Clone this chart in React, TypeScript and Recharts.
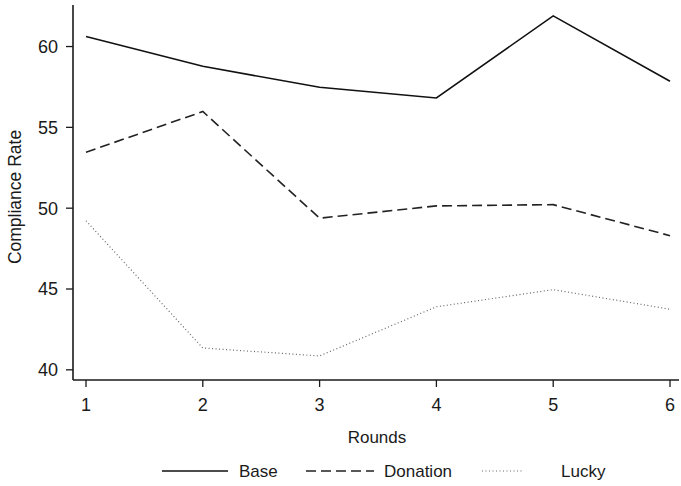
import { LineChart, Line, XAxis, YAxis, Legend } from 'recharts';

const rounds = [1, 2, 3, 4, 5, 6];
const base = [60.62, 58.78, 57.48, 56.82, 61.9, 57.85];
const donation = [53.46, 55.98, 49.38, 50.14, 50.22, 48.3];
const lucky = [49.22, 41.35, 40.86, 43.9, 44.96, 43.75];
const yTicks = [40, 45, 50, 55, 60];

const data = rounds.map((r, i) => ({
  round: r,
  base: base[i],
  donation: donation[i],
  lucky: lucky[i],
}));

const font = '"Liberation Sans", Arial, Helvetica, sans-serif';
const ink = '#1a1a1a';

const series = [
  { key: 'base', name: 'Base', stroke: '#111', width: 1.6, dash: undefined, x1: 162, x2: 228, tx: 239 },
  { key: 'donation', name: 'Donation', stroke: '#222', width: 1.6, dash: '10 5', x1: 306, x2: 374, tx: 384 },
  { key: 'lucky', name: 'Lucky', stroke: '#666', width: 1.2, dash: '1 2.5', x1: 482, x2: 522, tx: 561 },
];

function LegendRow() {
  return (
    <svg width={681} height={30} style={{ display: 'block' }}>
      {series.map((s) => (
        <g key={s.key}>
          <line x1={s.x1} x2={s.x2} y1={15} y2={15} stroke={s.stroke} strokeWidth={s.width} strokeDasharray={s.dash} />
          <text x={s.tx} y={21} fontFamily={font} fontSize={17} fill={ink}>
            {s.name}
          </text>
        </g>
      ))}
    </svg>
  );
}

export default function App() {
  return (
    <div style={{ position: 'absolute', left: 0, top: 0, width: 681, height: 486, background: '#fff' }}>
      <LineChart width={681} height={486} data={data} margin={{ top: 5, right: 2, left: 0, bottom: 16 }}>
        <XAxis
          dataKey="round"
          type="number"
          domain={[1, 6]}
          ticks={rounds}
          padding={{ left: 13, right: 9 }}
          tickSize={7}
          tickMargin={11}
          height={60}
          axisLine={{ stroke: ink, strokeWidth: 1.6 }}
          tickLine={{ stroke: ink, strokeWidth: 1.3 }}
          tick={{ fill: ink, fontSize: 18, fontFamily: font }}
          label={{
            content: () => (
              <text x={377} y={443} textAnchor="middle" fontFamily={font} fontSize={17} fill={ink}>
                Rounds
              </text>
            ),
          }}
        />
        <XAxis xAxisId="top" orientation="top" height={0} tick={false} tickLine={false} axisLine={{ stroke: '#777', strokeWidth: 1.4 }} />
        <YAxis
          domain={[39.37, 62.57]}
          ticks={yTicks}
          allowDataOverflow
          width={73}
          tickSize={7}
          tickMargin={8}
          axisLine={{ stroke: ink, strokeWidth: 1.6 }}
          tickLine={{ stroke: ink, strokeWidth: 1.3 }}
          tick={{ fill: ink, fontSize: 18, fontFamily: font }}
          label={{
            content: () => (
              <text
                x={21}
                y={197}
                transform="rotate(-90 21 197)"
                textAnchor="middle"
                fontFamily={font}
                fontSize={17.5}
                fill={ink}
              >
                Compliance Rate
              </text>
            ),
          }}
        />
        <YAxis yAxisId="right" orientation="right" width={0} tick={false} tickLine={false} axisLine={{ stroke: '#777', strokeWidth: 1.4 }} />
        <Legend
          content={() => <LegendRow />}
          wrapperStyle={{ position: 'absolute', left: 0, top: 456, width: 681 }}
        />
        {series.map((s) => (
          <Line
            key={s.key}
            type="linear"
            dataKey={s.key}
            name={s.name}
            stroke={s.stroke}
            strokeWidth={s.width}
            strokeDasharray={s.dash}
            dot={false}
            activeDot={false}
            isAnimationActive={false}
          />
        ))}
      </LineChart>
    </div>
  );
}
